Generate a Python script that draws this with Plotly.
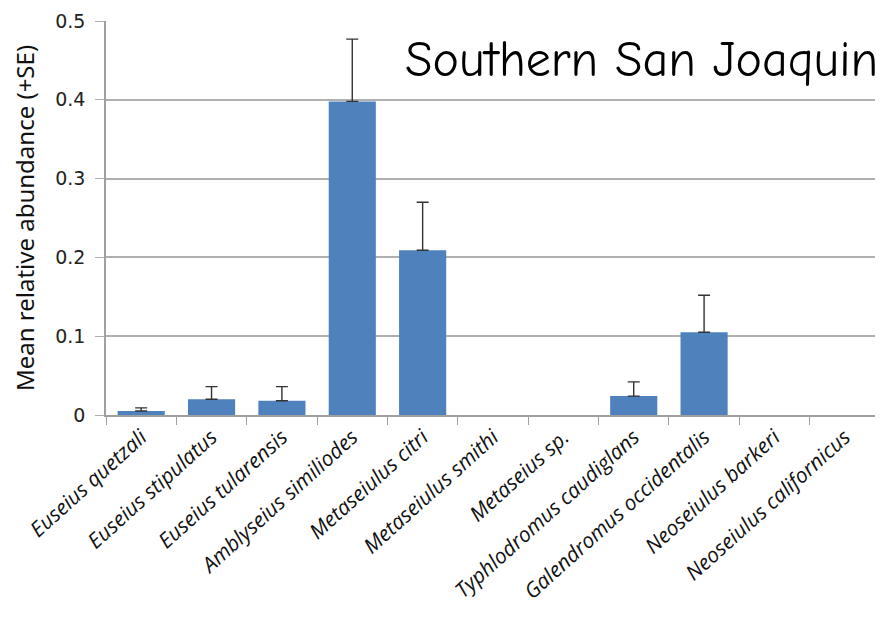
import plotly.graph_objects as go

species = [
    "Euseius quetzali", "Euseius stipulatus", "Euseius tularensis",
    "Amblyseius similiodes", "Metaseiulus citri", "Metaseiulus smithi",
    "Metaseius sp.", "Typhlodromus caudiglans", "Galendromus occidentalis",
    "Neoseiulus barkeri", "Neoseiulus californicus",
]
mean_abundance = [0.005, 0.020, 0.018, 0.398, 0.209, 0.0, 0.0, 0.024, 0.105, 0.0, 0.0]
se_plus = [0.004, 0.016, 0.018, 0.079, 0.061, 0.0, 0.0, 0.018, 0.047, 0.0, 0.0]
y_ticks = [0, 0.1, 0.2, 0.3, 0.4, 0.5]
y_tick_text = ["0", "0.1", "0.2", "0.3", "0.4", "0.5"]

# absent species: no bar and no SE cap drawn
bar_y = [v if v > 0 else None for v in mean_abundance]

fig = go.Figure(go.Bar(
    x=species,
    y=bar_y,
    marker=dict(color="#4F81BD", line=dict(width=0)),
    error_y=dict(type="data", array=se_plus, symmetric=False, arrayminus=[0] * len(se_plus),
                 color="#333333", thickness=1.4, width=6),
    showlegend=False,
))

fig.add_annotation(
    text="Southern San Joaquin", xref="paper", yref="paper",
    x=1.0, y=0.9, xanchor="right", yanchor="middle", showarrow=False,
    font=dict(family="Comic Sans MS, Comic Neue, Lato", size=50, color="black"),
)

# page body adds an 8px offset, so the figure is sized to fit inside it
fig.update_layout(
    width=875, height=614,
    plot_bgcolor="white", paper_bgcolor="white",
    margin=dict(l=98, r=3, t=13, b=207),
    bargap=0.33,
    font=dict(family="Noto Sans, Open Sans", color="#222"),
    xaxis=dict(
        tickangle=-42, tickson="boundaries", ticks="outside", ticklen=8,
        tickcolor="#A0A0A0", showline=True, linecolor="#A0A0A0", linewidth=1.5,
        tickfont=dict(size=21, family="Open Sans", style="italic", color="#111"),
        showgrid=False, automargin=False,
    ),
    yaxis=dict(
        range=[0, 0.5], tickvals=y_ticks, ticktext=y_tick_text,
        ticks="outside", ticklen=9, tickcolor="#B0B0B0",
        showline=True, linecolor="#A0A0A0", linewidth=1.5,
        gridcolor="#B0B0B0", gridwidth=1.5, zeroline=False,
        tickfont=dict(size=19, family="DejaVu Sans", color="#222"),
        ticklabelstandoff=6, automargin=False,
        title=dict(text="Mean relative abundance (+SE)", font=dict(size=24, color="#111"), standoff=16),
    ),
)

fig.write_html("out.html")
